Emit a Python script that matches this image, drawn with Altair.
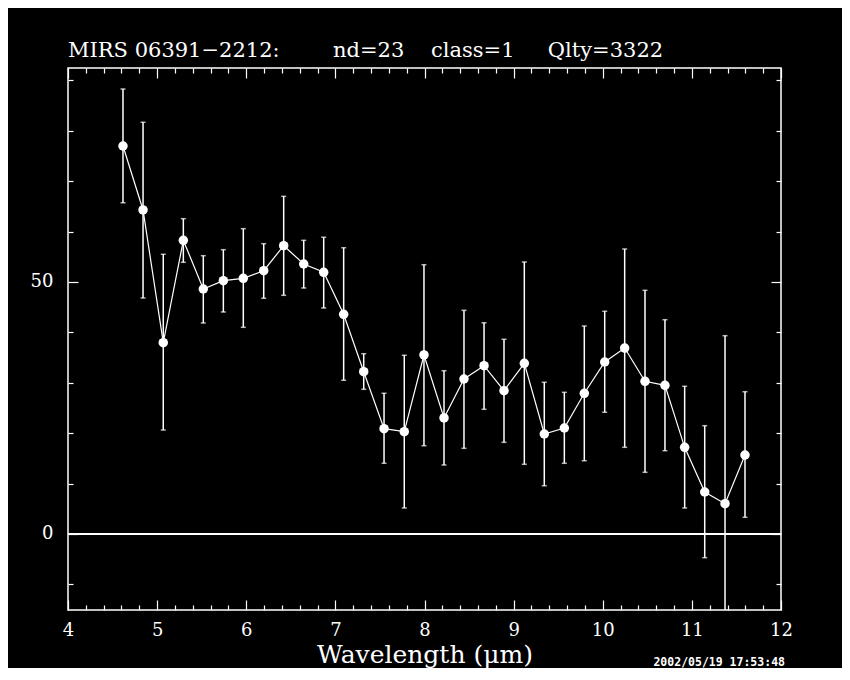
import altair as alt
import pandas as pd

# ---- data ----
wavelength = [4.617, 4.842, 5.069, 5.294, 5.518, 5.743, 5.967, 6.196, 6.420, 6.645,
              6.869, 7.093, 7.318, 7.546, 7.773, 7.994, 8.219, 8.443, 8.668, 8.892,
              9.120, 9.344, 9.569, 9.793, 10.022, 10.246, 10.474, 10.698, 10.919, 11.144,
              11.372, 11.596]
flux = [76.98, 64.29, 37.96, 58.27, 48.61, 50.26, 50.73, 52.24, 57.20, 53.57,
        51.92, 43.59, 32.20, 20.89, 20.30, 35.52, 23.02, 30.75, 33.39, 28.43,
        33.87, 19.84, 21.03, 27.92, 34.13, 36.90, 30.30, 29.50, 17.20, 8.33,
        6.01, 15.67]
upper = [88.29, 81.69, 55.50, 62.56, 55.22, 56.41, 60.58, 57.60, 67.00, 58.27,
         58.87, 56.80, 35.77, 27.92, 35.46, 53.43, 32.40, 44.38, 41.92, 38.63,
         53.97, 30.10, 28.11, 41.27, 44.19, 56.55, 48.35, 42.52, 29.31, 21.49,
         39.35, 28.23]
lower = [65.73, 46.83, 20.63, 53.91, 41.87, 44.05, 41.01, 46.77, 47.36, 48.81,
         44.84, 30.50, 28.71, 14.03, 5.16, 17.52, 13.69, 17.00, 24.74, 18.19,
         13.83, 9.58, 14.03, 14.54, 24.15, 17.20, 12.24, 16.53, 5.16, -4.70,
         -27.30, 3.31]

x_tick_labels = [4, 5, 6, 7, 8, 9, 10, 11, 12]
x_minor_ticks = [round(4 + 0.2 * i, 1) for i in range(41)]
y_tick_labels = [0, 50]
y_minor_ticks = [-10, 0, 10, 20, 30, 40, 50, 60, 70, 80, 90]
zero_level = [0]

NB = "\u00a0"
title_text = ["MIRS 06391\u22122212:" + NB * 8 + "nd=23" + NB * 4 + "class=1" + NB * 5 + "Qlty=3322"]
x_title = "Wavelength (\u03bcm)"
stamp = ["2002/05/19 17:53:48"]

X_DOMAIN = [4, 12]
Y_DOMAIN = [-15.08, 92.46]
W, H = 713, 542
PAD = {"left": 60, "top": 60, "right": 61, "bottom": 58}
SERIF = "DejaVu Serif"

df = pd.DataFrame({"wl": wavelength, "flux": flux, "lo": lower, "hi": upper})
zero_df = pd.DataFrame({"v": zero_level})
stamp_df = pd.DataFrame({"t": stamp})
title_df = pd.DataFrame({"t": title_text})

xs = alt.Scale(domain=X_DOMAIN, nice=False, zero=False)
ys = alt.Scale(domain=Y_DOMAIN, nice=False, zero=False)

base = alt.Chart(df)

# main layer carries labeled axes (no ticks)
main_axis_x = alt.Axis(values=x_tick_labels, orient="bottom", ticks=False, domain=False,
                       grid=False, labelFont=SERIF, labelFontSize=18, labelColor="white",
                       labelPadding=11, labelFlush=False,
                       title=x_title, titleFont=SERIF, titleFontSize=25,
                       titleFontWeight="normal", titleColor="white", titlePadding=3)
main_axis_y = alt.Axis(values=y_tick_labels, orient="left", ticks=False, domain=False,
                       grid=False, labelFont=SERIF, labelFontSize=18, labelColor="white",
                       labelPadding=15, title="")

errbars = base.mark_rule(color="white", strokeWidth=1.5, clip=True).encode(
    x=alt.X("wl:Q", scale=xs, axis=main_axis_x),
    y=alt.Y("lo:Q", scale=ys, axis=main_axis_y),
    y2="hi:Q",
)
cap_lo = base.mark_tick(color="white", orient="horizontal", size=5, thickness=1.5, clip=True).encode(
    x=alt.X("wl:Q", scale=xs, axis=None), y=alt.Y("lo:Q", scale=ys, axis=None))
cap_hi = base.mark_tick(color="white", orient="horizontal", size=5, thickness=1.5, clip=True).encode(
    x=alt.X("wl:Q", scale=xs, axis=None), y=alt.Y("hi:Q", scale=ys, axis=None))
line = base.mark_line(color="white", strokeWidth=1.2).encode(
    x=alt.X("wl:Q", scale=xs, axis=None), y=alt.Y("flux:Q", scale=ys, axis=None))
points = base.mark_circle(color="white", opacity=1, size=90).encode(
    x=alt.X("wl:Q", scale=xs, axis=None), y=alt.Y("flux:Q", scale=ys, axis=None))
zero = alt.Chart(zero_df).mark_rule(color="white", strokeWidth=2).encode(
    y=alt.Y("v:Q", scale=ys, axis=None))

x_major = "abs(datum.value - round(datum.value)) < 0.001"
y_major = "datum.value % 50 === 0"


def tick_axis(vals, orient, offset, major_test):
    return alt.Axis(values=vals, orient=orient, offset=offset, labels=False,
                    domain=False, grid=False, title="", tickColor="white",
                    tickWidth=1.2,
                    tickSize=alt.condition(major_test, alt.value(10), alt.value(5)))


def tick_layer(xaxis, yaxis):
    return base.mark_point(opacity=0).encode(
        x=alt.X("wl:Q", scale=xs, axis=xaxis),
        y=alt.Y("flux:Q", scale=ys, axis=yaxis),
    )


# inward ticks on all four sides
t_bottom = tick_layer(tick_axis(x_minor_ticks, "top", -H, x_major),
                      tick_axis(y_minor_ticks, "right", -W, y_major))
t_top = tick_layer(tick_axis(x_minor_ticks, "bottom", -H, x_major),
                   tick_axis(y_minor_ticks, "left", -W, y_major))

title_mark = alt.Chart(title_df).mark_text(
    color="white", font=SERIF, fontSize=21, align="left", baseline="alphabetic").encode(
    text="t:N", x=alt.value(0), y=alt.value(-11))

stamp_text = alt.Chart(stamp_df).mark_text(
    color="white", font="DejaVu Sans Mono", fontSize=11.5, fontWeight="bold",
    align="right", baseline="bottom").encode(
    text="t:N", x=alt.value(W + 4), y=alt.value(H + PAD["bottom"]))

chart = alt.layer(
    zero, errbars, cap_lo, cap_hi, line, points, t_bottom, t_top, title_mark, stamp_text
).resolve_axis(x="independent", y="independent").properties(
    width=W, height=H,
    autosize=alt.AutoSizeParams(type="none"),
    padding=PAD,
    background="black",
).configure_view(stroke="white", strokeWidth=1.5)

chart.save("out.html", embed_options={"renderer": "svg", "actions": False})
